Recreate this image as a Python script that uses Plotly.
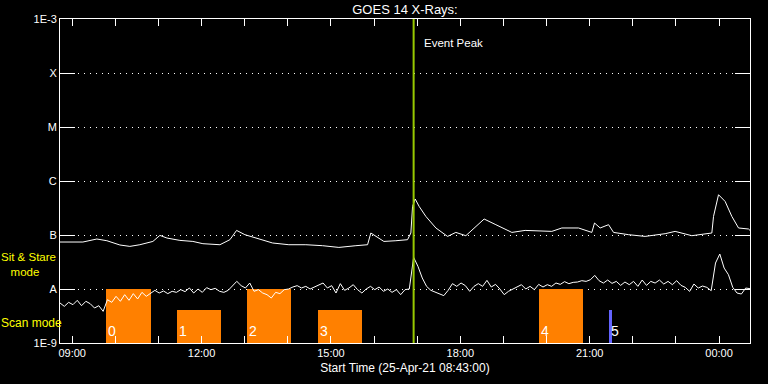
import pandas as pd
import plotly.graph_objects as go

# ---------------- data ----------------
start_time = pd.Timestamp("2021-04-25 08:43:00")
end_time = pd.Timestamp("2021-04-26 00:43:00")
event_peak = "2021-04-25 16:55:00"

# long channel (1-8 A): hours since start, log10 flux (W/m^2)
long_hours = [0.0, 0.531, 0.855, 1.087, 1.388, 1.620, 1.852, 2.154, 2.316, 2.479,
              2.780, 3.081, 3.314, 3.708, 3.940, 4.095, 4.287, 4.542, 4.929, 5.307,
              5.701, 6.088, 6.467, 6.861, 7.132, 7.208, 7.394, 7.510, 7.788, 8.059,
              8.136, 8.175, 8.236, 8.328, 8.484, 8.716, 8.987, 9.179, 9.411, 9.643,
              9.835, 10.107, 10.478, 10.786, 11.405, 11.637, 12.024, 12.332, 12.395, 12.525,
              12.720, 12.836, 13.183, 13.568, 14.032, 14.264, 14.651, 15.115, 15.154, 15.270,
              15.423, 15.579, 15.734, 15.966, 16.0]
long_log = [-7.130, -7.130, -7.074, -7.106, -7.185, -7.211, -7.180, -7.119, -7.007, -7.056,
            -7.100, -7.119, -7.161, -7.180, -7.087, -6.915, -6.994, -7.056, -7.148, -7.180,
            -7.180, -7.198, -7.230, -7.198, -7.180, -6.963, -7.056, -7.119, -7.106, -7.087,
            -6.963, -6.470, -6.333, -6.470, -6.656, -6.870, -7.026, -6.952, -7.013, -6.841,
            -6.704, -6.809, -6.952, -6.915, -6.933, -6.870, -6.870, -6.952, -6.778, -6.870,
            -6.809, -6.952, -6.994, -7.026, -6.976, -6.933, -7.013, -6.963, -6.656, -6.254,
            -6.378, -6.656, -6.870, -6.889, -6.915]

# short channel (0.5-4 A): one value every 6 minutes from start, log10 flux
short_log = [
    -8.259, -8.321, -8.247, -8.290, -8.210, -8.309, -8.228, -8.272, -8.352, -8.309,
    -8.414, -8.198, -8.247, -8.136, -8.228, -8.105, -8.210, -8.086, -8.185, -8.062,
    -8.136, -8.074, -8.025, -8.074, -8.037, -8.086, -8.043, -8.062, -8.012, -8.049,
    -7.981, -8.074, -8.000, -8.062, -7.975, -8.012, -7.988, -8.043, -8.062, -8.025,
    -7.951, -7.858, -7.938, -7.981, -7.889, -8.043, -8.012, -8.074, -8.105, -8.167,
    -8.062, -8.086, -8.012, -8.000, -7.963, -7.938, -7.981, -7.951, -8.000, -7.963,
    -7.938, -7.889, -7.981, -7.938, -8.074, -7.901, -8.025, -7.981, -7.920, -8.012,
    -8.074, -8.000, -7.951, -8.012, -7.963, -8.043, -8.000, -8.062, -8.012, -8.105,
    -8.012, -8.000, -7.414, -7.580, -7.796, -7.951, -8.025, -8.062, -8.086, -8.123,
    -8.025, -7.901, -7.951, -7.889, -7.938, -8.043, -7.951, -7.901, -7.951, -7.840,
    -7.963, -7.914, -8.000, -8.105, -8.043, -8.000, -7.963, -7.920, -8.000, -7.951,
    -8.012, -7.914, -7.963, -7.920, -7.951, -7.889, -7.914, -7.864, -7.901, -7.877,
    -7.871, -7.846, -7.859, -7.828, -7.748, -7.846, -7.890, -7.834, -7.896, -7.859,
    -7.933, -7.871, -7.920, -7.859, -7.951, -7.834, -7.933, -7.859, -7.890, -7.834,
    -7.908, -7.859, -7.920, -7.846, -7.933, -7.970, -8.044, -7.908, -7.982, -7.945,
    -7.970, -8.031, -7.519, -7.352, -7.612, -7.735, -7.970, -8.075, -8.093, -7.982,
    -7.994,
]

# observing-mode blocks
mode_labels = ["0", "1", "2", "3", "4", "5"]
mode_start = ["2021-04-25 09:47", "2021-04-25 11:26", "2021-04-25 13:03",
              "2021-04-25 14:42", "2021-04-25 19:49", "2021-04-25 21:27"]
mode_end = ["2021-04-25 10:49", "2021-04-25 12:27", "2021-04-25 14:05",
            "2021-04-25 15:43", "2021-04-25 20:51", "2021-04-25 21:31"]
mode_level = [1.0, 0.62, 1.0, 0.62, 1.0, 0.62]   # 1 = sit & stare, 0.62 = scan
mode_colors = ["#ff8000", "#ff8000", "#ff8000", "#ff8000", "#ff8000", "#6464ff"]

y_tickvals = [1e-9, 1e-8, 1e-7, 1e-6, 1e-5, 1e-4, 1e-3]
y_ticktext = ["1E-9", "A", "B", "C", "M", "X", "1E-3"]

# ---------------- figure ----------------
long_t = [start_time + pd.Timedelta(hours=h) for h in long_hours]
short_t = pd.date_range(start_time, periods=len(short_log), freq="6min")

ms = [pd.Timestamp(s) for s in mode_start]
me = [pd.Timestamp(e) for e in mode_end]
centers = [a + (b - a) / 2 for a, b in zip(ms, me)]
widths = [(b - a).total_seconds() * 1000 for a, b in zip(ms, me)]

FONT = "Liberation Sans"
fig = go.Figure()

fig.add_trace(go.Bar(x=centers, y=mode_level, width=widths, marker_color=mode_colors,
                     marker_line_width=0, yaxis="y", showlegend=False, hoverinfo="skip"))
fig.add_trace(go.Scatter(x=long_t, y=[10 ** v for v in long_log], mode="lines",
                         line=dict(color="white", width=1), yaxis="y2", showlegend=False))
fig.add_trace(go.Scatter(x=short_t, y=[10 ** v for v in short_log], mode="lines",
                         line=dict(color="white", width=1), yaxis="y2", showlegend=False))

annotations = []
for lab, s in zip(mode_labels, ms):
    annotations.append(dict(x=s, y=0, xref="x", yref="y", text=lab, showarrow=False,
                            xanchor="left", yanchor="bottom", xshift=0, yshift=2,
                            font=dict(family=FONT, size=14, color="white")))
annotations += [
    dict(x=event_peak, y=0.927, xref="x", yref="paper", text="Event Peak", showarrow=False,
         xanchor="left", yanchor="middle", xshift=8, font=dict(family=FONT, size=11.5, color="white")),
    dict(x=-0.087, y=1.445, xref="paper", yref="y",
         text="Sit & Stare<br>&nbsp;&nbsp;&nbsp;mode", showarrow=False, align="left",
         xanchor="left", yanchor="middle", xshift=0, borderpad=0,
         font=dict(family=FONT, size=11.5, color="#ffff00")),
    dict(x=-0.087, y=0.37, xref="paper", yref="y", text="Scan mode", showarrow=False,
         xanchor="left", yanchor="middle", xshift=0, borderpad=0,
         font=dict(family=FONT, size=12, color="#ffff00")),
]

fig.update_layout(
    width=768, height=384,
    margin=dict(l=60, r=18, t=19, b=41),
    paper_bgcolor="black", plot_bgcolor="black",
    font=dict(family=FONT, color="white", size=11),
    title=dict(text="GOES 14 X-Rays:", x=0.5, xref="paper", y=1 - 9.5 / 384, yref="container",
               xanchor="center", yanchor="middle", font=dict(family=FONT, size=13, color="white")),
    bargap=0,
    xaxis=dict(type="date", range=[start_time, end_time], tickformat="%H:%M",
               tick0="2021-04-25 00:00", dtick=3 * 3600 * 1000,
               ticks="inside", ticklen=7, tickcolor="white", tickwidth=1,
               showline=True, linecolor="white", linewidth=1, mirror="allticks",
               showgrid=False, zeroline=False,
               minor=dict(dtick=3600 * 1000, ticks="inside", ticklen=4, tickcolor="white",
                          showgrid=False),
               tickfont=dict(family=FONT, size=11, color="white"),
               title=dict(text="Start Time (25-Apr-21 08:43:00)", standoff=5,
                          font=dict(family=FONT, size=12, color="white"))),
    yaxis=dict(range=[0, 6], visible=False, fixedrange=True),
    yaxis2=dict(type="log", range=[-9, -3], overlaying="y", side="left",
                tickvals=y_tickvals, ticktext=y_ticktext,
                ticks="inside", ticklen=15, tickcolor="white", tickwidth=1,
                showline=True, linecolor="white", linewidth=1, mirror="allticks",
                showgrid=True, gridcolor="white", gridwidth=1, griddash="1px,5px",
                zeroline=False, tickfont=dict(family=FONT, size=11, color="white")),
    shapes=[dict(type="line", xref="x", yref="paper", x0=event_peak, x1=event_peak,
                 y0=0, y1=1, line=dict(color="#96c800", width=2), layer="above")],
    annotations=annotations,
)

fig.write_html("out.html")
